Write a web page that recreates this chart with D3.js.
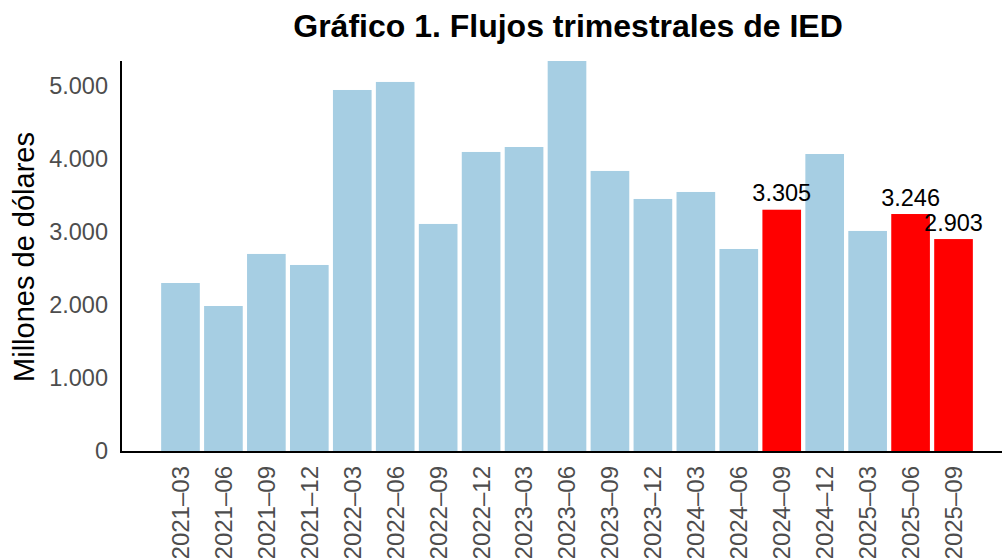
<!DOCTYPE html>
<html>
<head>
<meta charset="utf-8">
<script src="https://cdn.jsdelivr.net/npm/d3@7"></script>
<style>
  html, body { margin: 0; padding: 0; background: #ffffff; }
  svg { display: block; font-family: "Liberation Sans", Arial, sans-serif; }
</style>
</head>
<body>
<svg id="chart" width="1002" height="558"></svg>
<script>
// ---- Data ----
const categories = ["2021–03","2021–06","2021–09","2021–12","2022–03","2022–06","2022–09","2022–12",
  "2023–03","2023–06","2023–09","2023–12","2024–03","2024–06","2024–09","2024–12",
  "2025–03","2025–06","2025–09"];
const values = [2301, 1986, 2699, 2548, 4945, 5055, 3110, 4096,
  4164, 5342, 3836, 3452, 3548, 2767, 3305, 4068,
  3014, 3246, 2903];
const highlighted = ["2024–09", "2025–06", "2025–09"];
const yTicks = [0, 1000, 2000, 3000, 4000, 5000];
const title = "Gráfico 1. Flujos trimestrales de IED";
const yTitle = "Millones de dólares";

// ---- Layout ----
const svg = d3.select("#chart");
const panel = { left: 121, right: 1002, top: 61, bottom: 451 };

const x = d3.scaleBand()
  .domain(categories)
  .range([159, 975])
  .paddingInner(0.1)
  .paddingOuter(0.05);

const y = d3.scaleLinear()
  .domain([0, d3.max(values)])
  .range([panel.bottom, panel.top]);

const fmt = v => d3.format(",")(v).replace(/,/g, ".");

const data = categories.map((c, i) => ({ cat: c, val: values[i], hl: highlighted.includes(c) }));

// Bars
svg.append("g").selectAll("rect")
  .data(data)
  .join("rect")
  .attr("x", d => x(d.cat))
  .attr("width", x.bandwidth())
  .attr("y", d => y(d.val))
  .attr("height", d => y(0) - y(d.val))
  .attr("fill", d => d.hl ? "#ff0000" : "#a6cee3");

// Value labels for highlighted bars
svg.append("g").selectAll("text")
  .data(data.filter(d => d.hl))
  .join("text")
  .attr("x", d => x(d.cat) + x.bandwidth() / 2)
  .attr("y", d => y(d.val) - 8.5)
  .attr("text-anchor", "middle")
  .attr("font-size", 23.5)
  .attr("fill", "#000")
  .text(d => fmt(d.val));

// Y axis
const yAxis = d3.axisLeft(y).tickValues(yTicks).tickFormat(fmt).tickSize(0).tickPadding(13);
const gy = svg.append("g").attr("transform", `translate(${panel.left},0)`).call(yAxis);
gy.select(".domain").remove();
gy.selectAll("text").attr("font-size", 23.5).attr("fill", "#4d4d4d").attr("font-family", "Liberation Sans, Arial, sans-serif");

// X axis
const xAxis = d3.axisBottom(x).tickSize(0).tickPadding(0);
const gx = svg.append("g").attr("transform", `translate(0,${panel.bottom})`).call(xAxis);
gx.select(".domain").remove();
gx.selectAll("text")
  .attr("font-size", 24)
  .attr("fill", "#4d4d4d")
  .attr("font-family", "Liberation Sans, Arial, sans-serif")
  .attr("text-anchor", "end")
  .attr("transform", "translate(0,15) rotate(-90)")
  .attr("x", 0)
  .attr("y", 0)
  .attr("dy", "0.35em");

// Axis lines
svg.append("line")
  .attr("x1", panel.left).attr("x2", panel.left)
  .attr("y1", panel.top).attr("y2", panel.bottom + 2)
  .attr("stroke", "#000").attr("stroke-width", 2);
svg.append("line")
  .attr("x1", panel.left - 1).attr("x2", panel.right)
  .attr("y1", panel.bottom + 1).attr("y2", panel.bottom + 1)
  .attr("stroke", "#000").attr("stroke-width", 2);

// Y title
svg.append("text")
  .attr("transform", `translate(34,257) rotate(-90)`)
  .attr("text-anchor", "middle")
  .attr("font-size", 29)
  .attr("fill", "#000")
  .text(yTitle);

// Title
svg.append("text")
  .attr("x", 568)
  .attr("y", 37)
  .attr("text-anchor", "middle")
  .attr("font-size", 32)
  .attr("font-weight", "bold")
  .attr("fill", "#000")
  .text(title);
</script>
</body>
</html>
